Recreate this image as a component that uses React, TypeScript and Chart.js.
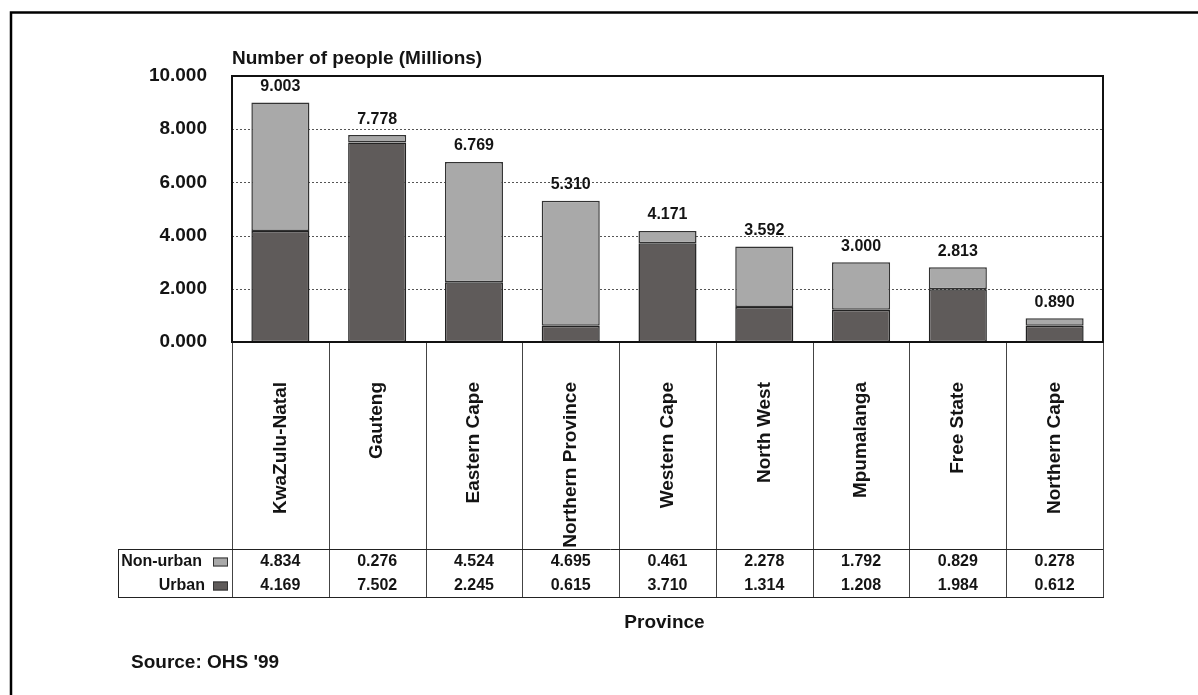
import React, { useEffect, useRef } from "react";
import { Chart, registerables } from "chart.js";

Chart.register(...registerables);

const categories = [
  "KwaZulu-Natal",
  "Gauteng",
  "Eastern Cape",
  "Northern Province",
  "Western Cape",
  "North West",
  "Mpumalanga",
  "Free State",
  "Northern Cape",
];
const urban = [4.169, 7.502, 2.245, 0.615, 3.71, 1.314, 1.208, 1.984, 0.612];
const nonUrban = [4.834, 0.276, 4.524, 4.695, 0.461, 2.278, 1.792, 0.829, 0.278];
const totals = [9.003, 7.778, 6.769, 5.31, 4.171, 3.592, 3.0, 2.813, 0.89];
const gridValues = [2, 4, 6, 8];

const FONT = '"Liberation Sans", Arial, Helvetica, sans-serif';
const URBAN_COLOR = "#5f5b5a";
const NONURBAN_COLOR = "#a9a9a9";
const TEXT = "#141414";

const overlay = {
  id: "overlay",
  beforeDraw(chart: any) {
    const ctx = chart.ctx;
    ctx.save();
    ctx.fillStyle = "#ffffff";
    ctx.fillRect(0, 0, chart.width, chart.height);
    ctx.strokeStyle = "#000";
    ctx.lineWidth = 2.5;
    ctx.beginPath();
    ctx.moveTo(11, chart.height + 5);
    ctx.lineTo(11, 12.5);
    ctx.lineTo(chart.width + 5, 12.5);
    ctx.stroke();
    ctx.restore();
  },
  beforeDatasetsDraw(chart: any) {
    const ctx = chart.ctx;
    const { left, right } = chart.chartArea;
    const y = chart.scales.y;
    ctx.save();
    ctx.strokeStyle = "#555";
    ctx.lineWidth = 1;
    ctx.setLineDash([2, 2]);
    gridValues.forEach((v) => {
      const py = Math.round(y.getPixelForValue(v)) + 0.5;
      ctx.beginPath();
      ctx.moveTo(left, py);
      ctx.lineTo(right, py);
      ctx.stroke();
    });
    ctx.restore();
  },
  afterDatasetsDraw(chart: any) {
    const ctx = chart.ctx;
    const { left, right, top, bottom } = chart.chartArea;
    const xs = chart.scales.x;
    const n = categories.length;
    const w = (right - left) / n;
    ctx.save();

    ctx.strokeStyle = "#111";
    ctx.lineWidth = 2;
    ctx.strokeRect(left, top, right - left, bottom - top);

    const meta = chart.getDatasetMeta(1);
    ctx.fillStyle = TEXT;
    ctx.font = `bold 16px ${FONT}`;
    ctx.textAlign = "center";
    ctx.textBaseline = "middle";
    meta.data.forEach((bar: any, i: number) => {
      ctx.fillText(totals[i].toFixed(3), bar.x, bar.y - 16);
    });

    const labelBottom = bottom + 207;
    const tableBottom = bottom + 255;
    const tableLeft = 118;
    ctx.lineWidth = 1;
    ctx.strokeStyle = "#444";
    for (let k = 0; k <= n; k++) {
      const x = Math.round(left + k * w) + 0.5;
      ctx.beginPath();
      ctx.moveTo(x, bottom + 1);
      ctx.lineTo(x, tableBottom);
      ctx.stroke();
    }
    ctx.strokeStyle = "#222";
    ctx.beginPath();
    ctx.moveTo(tableLeft, labelBottom + 0.5);
    ctx.lineTo(right, labelBottom + 0.5);
    ctx.moveTo(tableLeft, tableBottom + 0.5);
    ctx.lineTo(right + 1, tableBottom + 0.5);
    ctx.moveTo(tableLeft + 0.5, labelBottom);
    ctx.lineTo(tableLeft + 0.5, tableBottom + 1);
    ctx.stroke();

    ctx.font = `bold 19px ${FONT}`;
    ctx.fillStyle = TEXT;
    categories.forEach((c, i) => {
      const cx = xs.getPixelForValue(i);
      ctx.save();
      ctx.translate(cx, bottom + 40);
      ctx.rotate(-Math.PI / 2);
      ctx.textAlign = "right";
      ctx.textBaseline = "middle";
      ctx.fillText(c, 0, 0);
      ctx.restore();
    });

    const rowNon = bottom + 220;
    const rowUrb = bottom + 244;
    ctx.font = `bold 16px ${FONT}`;
    ctx.textAlign = "center";
    ctx.textBaseline = "middle";
    categories.forEach((_, i) => {
      const cx = xs.getPixelForValue(i);
      ctx.fillText(nonUrban[i].toFixed(3), cx, rowNon);
      ctx.fillText(urban[i].toFixed(3), cx, rowUrb);
    });

    ctx.textAlign = "right";
    ctx.fillText("Non-urban", 202, rowNon);
    ctx.fillText("Urban", 205, rowUrb);
    const sw = (y: number, color: string) => {
      ctx.fillStyle = color;
      ctx.fillRect(213, y - 4.5, 15, 9);
      ctx.strokeStyle = "#333";
      ctx.lineWidth = 1;
      ctx.strokeRect(213.5, y - 4, 14, 8);
    };
    sw(rowNon, NONURBAN_COLOR);
    sw(rowUrb, URBAN_COLOR);

    ctx.fillStyle = TEXT;
    ctx.font = `bold 19px ${FONT}`;
    ctx.textAlign = "left";
    ctx.fillText("Number of people (Millions)", 232, 59);
    ctx.textAlign = "center";
    ctx.fillText("Province", (left + right) / 2 - 3, bottom + 281);
    ctx.textAlign = "left";
    ctx.fillText("Source: OHS '99", 131, bottom + 321);

    ctx.restore();
  },
};

export default function App() {
  const ref = useRef<HTMLCanvasElement | null>(null);
  useEffect(() => {
    if (!ref.current) return;
    const chart = new Chart(ref.current, {
      type: "bar",
      data: {
        labels: categories,
        datasets: [
          {
            label: "Urban",
            data: urban,
            backgroundColor: URBAN_COLOR,
            borderColor: "#222",
            borderWidth: 1.5,
            borderSkipped: false,
            barPercentage: 0.6,
            categoryPercentage: 1,
          },
          {
            label: "Non-urban",
            data: nonUrban,
            backgroundColor: NONURBAN_COLOR,
            borderColor: "#333",
            borderWidth: 1.5,
            borderSkipped: false,
            barPercentage: 0.6,
            categoryPercentage: 1,
          },
        ],
      },
      options: {
        responsive: false,
        animation: false,
        devicePixelRatio: 1,
        layout: { padding: { left: 0, top: 76, right: 95, bottom: 146 } },
        plugins: {
          legend: { display: false },
          tooltip: { enabled: false },
          title: { display: false },
        },
        scales: {
          x: {
            stacked: true,
            grid: { display: false, drawTicks: false },
            border: { display: false },
            ticks: { display: false },
            afterFit: (s: any) => {
              s.height = 207;
            },
          },
          y: {
            stacked: true,
            min: 0,
            max: 10,
            grid: { display: false, drawTicks: false },
            border: { display: false },
            ticks: {
              stepSize: 2,
              padding: 25,
              color: TEXT,
              font: { family: FONT, size: 19, weight: "bold" },
              callback: (v: any) => Number(v).toFixed(3),
            },
            afterFit: (s: any) => {
              s.width = 232;
            },
          },
        },
      } as any,
      plugins: [overlay],
    });
    return () => chart.destroy();
  }, []);
  return (
    <div style={{ position: "fixed", left: 0, top: 0, width: 1198, height: 695, overflow: "hidden", background: "#fff" }}>
      <canvas ref={ref} width={1198} height={695} style={{ width: 1198, height: 695, display: "block" }} />
    </div>
  );
}
